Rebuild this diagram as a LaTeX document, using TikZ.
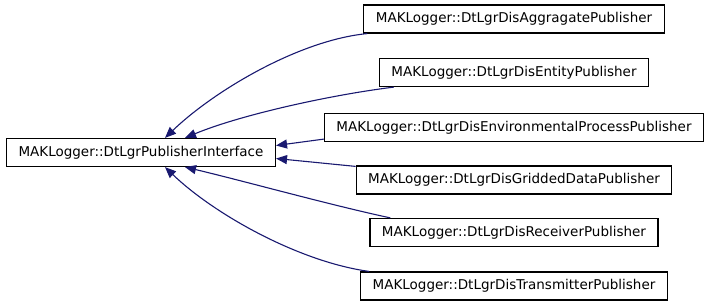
\documentclass[tikz,border=0pt]{standalone}
\usepackage{fontspec}
\setmainfont{DejaVu Sans}
\usepackage{tikz}
\usetikzlibrary{positioning,arrows.meta}
\definecolor{DoxNavy}{RGB}{25,25,112}
\tikzset{
	cls/.style={draw=black,fill=white,line width=1.2pt,inner xsep=12pt,inner ysep=0pt,
		minimum height=28pt,font=\fontsize{13.5}{16}\selectfont},
	inh/.style={draw=DoxNavy,line width=1.1pt,{Triangle[length=11pt,width=9pt]}-},
}

\begin{document}
\begin{tikzpicture}[x=1pt,y=-1pt]
	\useasboundingbox (0,0) rectangle (709,307);
	\node[cls] (base) at (141,152.5) {MAKLogger::DtLgrPublisherInterface};
	\foreach \n/\y/\cname in {agg/19/Aggragate,ent/72.5/Entity,env/127.5/EnvironmentalProcess,
		grid/180/GriddedData,rec/232.5/Receiver,tra/286/Transmitter}
	\node[cls] (\n) at (514,\y) {MAKLogger::DtLgrDis\cname Publisher};
	\draw[inh] ([xshift=24pt]base.north) .. controls (215,90) and (300,40) .. ([xshift=4pt]agg.south west);
	\draw[inh] ([xshift=44pt]base.north) .. controls (240,115) and (330,95) .. ([xshift=15pt]ent.south west);
	\draw[inh] ([yshift=7pt]base.east) -- ([yshift=3pt]env.south west);
	\draw[inh] ([yshift=-6pt]base.east) -- ([yshift=-1pt]grid.north west);
	\draw[inh] ([xshift=44pt]base.south) .. controls (240,180) and (330,205) .. ([xshift=21pt]rec.north west);
	\draw[inh] ([xshift=24pt]base.south) .. controls (215,215) and (300,262) .. ([xshift=9pt]tra.north west);
\end{tikzpicture}
\end{document}
